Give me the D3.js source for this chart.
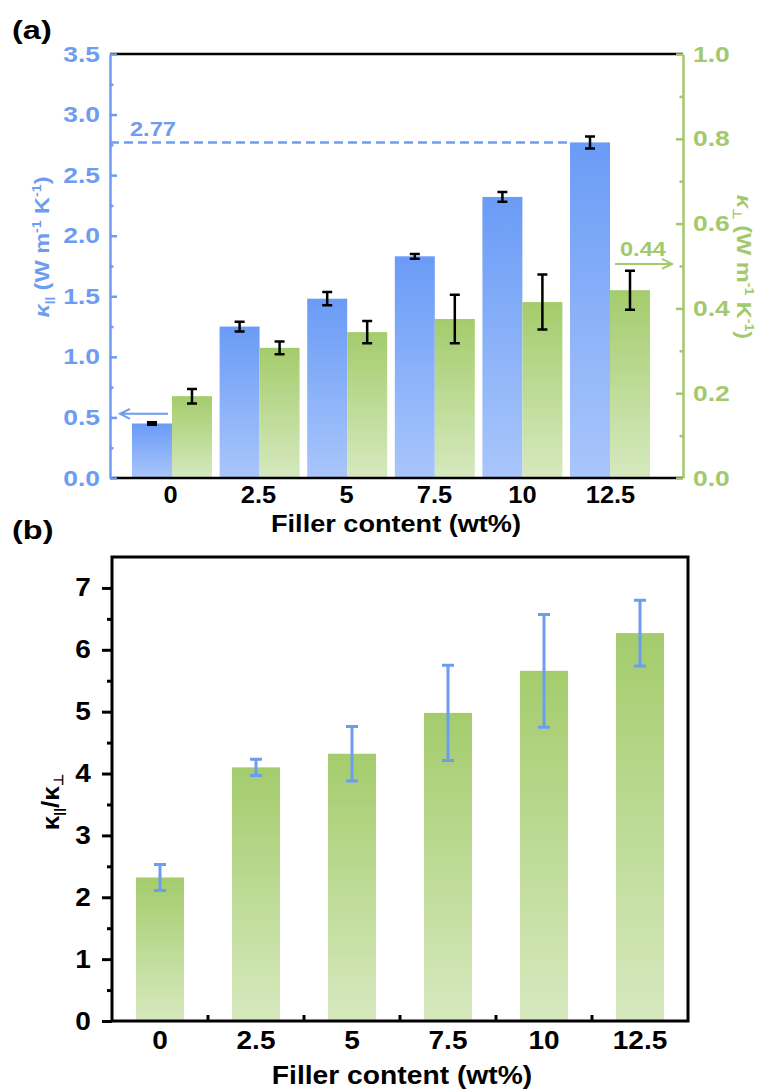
<!DOCTYPE html>
<html>
<head>
<meta charset="utf-8">
<script src="https://cdn.jsdelivr.net/npm/d3@7"></script>
<style>
  body { margin: 0; background: #fff; }
  svg { font-family: "Liberation Sans", Arial, sans-serif; font-weight: bold; }
</style>
</head>
<body>
<script>
// data
const fillers = ['0', '2.5', '5', '7.5', '10', '12.5'];
const kPara = [0.45, 1.25, 1.48, 1.83, 2.32, 2.77];
const kParaErr = [0.01, 0.04, 0.055, 0.02, 0.04, 0.05];
const kPerp = [0.193, 0.307, 0.344, 0.375, 0.415, 0.443];
const kPerpErr = [0.017, 0.015, 0.026, 0.057, 0.065, 0.046];
const ratio = [2.32, 4.10, 4.32, 4.98, 5.66, 6.27];
const ratioErr = [0.21, 0.13, 0.44, 0.77, 0.91, 0.53];
const yLeftTicks = [0, 0.5, 1.0, 1.5, 2.0, 2.5, 3.0, 3.5];
const yRightTicks = [0, 0.2, 0.4, 0.6, 0.8, 1.0];
const yRatioTicks = [0, 1, 2, 3, 4, 5, 6, 7];

const blue = '#6d9cf0', green = '#a3c96d';

const svg = d3.select('body').append('svg')
    .attr('width', 772).attr('height', 1090);

const defs = svg.append('defs');
const grad = (id, c0, c1) => {
    const g = defs.append('linearGradient').attr('id', id)
        .attr('x1', 0).attr('y1', 0).attr('x2', 0).attr('y2', 1);
    g.append('stop').attr('offset', 0).attr('stop-color', c0);
    g.append('stop').attr('offset', 1).attr('stop-color', c1);
};
grad('gBlue', '#6a9bf6', '#a9c6fb');
grad('gGreen', '#a4cc6c', '#d6e9bf');

const label = (g, x, y, txt, size, sx, anchor, fill, rot = 0) =>
    g.append('text')
        .attr('transform', `translate(${x},${y}) rotate(${rot}) scale(${sx},1)`)
        .attr('text-anchor', anchor)
        .attr('font-size', size)
        .attr('fill', fill)
        .text(txt);

const kappaTitle = (g, x, y, sub, fill, rot, size, sx, italic) => {
    const t = g.append('text')
        .attr('transform', `translate(${x},${y}) rotate(${rot}) scale(${sx},1)`)
        .attr('text-anchor', 'middle')
        .attr('font-size', size)
        .attr('fill', fill);
    t.append('tspan').attr('font-style', italic ? 'italic' : null).text('κ');
    t.append('tspan').attr('font-size', size * 0.55).attr('dy', 4).text(sub);
    t.append('tspan').attr('dy', -4).text(' (W m');
    t.append('tspan').attr('font-size', size * 0.6).attr('dy', -8).text('-1');
    t.append('tspan').attr('dy', 8).text(' K');
    t.append('tspan').attr('font-size', size * 0.6).attr('dy', -8).text('-1');
    t.append('tspan').attr('dy', 8).text(')');
};

const errBars = (g, data, xf, yf, half, color, width) => {
    const e = g.append('g').attr('stroke', color).attr('stroke-width', width).attr('fill', 'none');
    e.selectAll('path').data(data).join('path')
        .attr('d', d => {
            const x = xf(d), y0 = yf(d.v - d.e), y1 = yf(d.v + d.e);
            return `M${x - half},${y1}H${x + half}M${x},${y1}V${y0}M${x - half},${y0}H${x + half}`;
        });
};

// ---------------- panel (a) ----------------
const a = svg.append('g');
const xA = d3.scaleBand().domain(fillers).range([132, 650]).paddingInner(0.087).paddingOuter(0);
const xSub = d3.scaleBand().domain(['para', 'perp']).range([0, xA.bandwidth()]);
const yL = d3.scaleLinear().domain([0, 3.5]).range([478, 54]);
const yR = d3.scaleLinear().domain([0, 1]).range([478, 54]);

const paraData = fillers.map((f, i) => ({f, v: kPara[i], e: kParaErr[i]}));
const perpData = fillers.map((f, i) => ({f, v: kPerp[i], e: kPerpErr[i]}));

a.selectAll('rect.para').data(paraData).join('rect').attr('class', 'para')
    .attr('x', d => xA(d.f) + xSub('para'))
    .attr('width', xSub.bandwidth())
    .attr('y', d => yL(d.v))
    .attr('height', d => yL(0) - yL(d.v))
    .attr('fill', 'url(#gBlue)');
a.selectAll('rect.perp').data(perpData).join('rect').attr('class', 'perp')
    .attr('x', d => xA(d.f) + xSub('perp'))
    .attr('width', xSub.bandwidth())
    .attr('y', d => yR(d.v))
    .attr('height', d => yR(0) - yR(d.v))
    .attr('fill', 'url(#gGreen)');

errBars(a, paraData, d => xA(d.f) + xSub('para') + xSub.bandwidth() / 2, yL, 5, '#000', 2.5);
errBars(a, perpData, d => xA(d.f) + xSub('perp') + xSub.bandwidth() / 2, yR, 5, '#000', 2.5);

// frame lines top / bottom
a.append('line').attr('x1', 110).attr('x2', 683).attr('y1', yL(3.5)).attr('y2', yL(3.5))
    .attr('stroke', '#000').attr('stroke-width', 2.7);
a.append('line').attr('x1', 110).attr('x2', 683).attr('y1', yL(0)).attr('y2', yL(0))
    .attr('stroke', '#000').attr('stroke-width', 2.7);

// max line
const last = paraData[paraData.length - 1];
a.append('line')
    .attr('x1', 110).attr('x2', xA(last.f) + xSub('para'))
    .attr('y1', yL(last.v)).attr('y2', yL(last.v))
    .attr('stroke', blue).attr('stroke-width', 2.5).attr('stroke-dasharray', '9,5');
label(a, 130, yL(last.v) - 6, '2.77', 20, 1.18, 'start', blue);

// arrows
const ay = yL(0.53);
const ax0 = xA('0') + xSub('para') + xSub.bandwidth() - 4, ax1 = 120;
a.append('path')
    .attr('d', `M${ax0},${ay}H${ax1}M${ax1 + 10},${ay - 5}L${ax1},${ay}L${ax1 + 10},${ay + 5}`)
    .attr('stroke', blue).attr('stroke-width', 2).attr('fill', 'none');
const gy = yR(0.505);
const gx0 = xA('12.5') + xSub('perp') + 5, gx1 = 672;
a.append('path')
    .attr('d', `M${gx0},${gy}H${gx1}M${gx1 - 10},${gy - 5}L${gx1},${gy}L${gx1 - 10},${gy + 5}`)
    .attr('stroke', green).attr('stroke-width', 2).attr('fill', 'none');
label(a, 620, gy - 8, '0.44', 20, 1.18, 'start', green);

// left axis
const sA = 1.2;
const leftAx = a.append('g').attr('transform', 'translate(110,0)')
    .call(d3.axisLeft(yL).tickValues(yLeftTicks).tickFormat(d3.format('.1f'))
        .tickSizeInner(-7).tickSizeOuter(0).tickPadding(10 / sA));
leftAx.selectAll('path,line').attr('stroke', blue).attr('stroke-width', 2.5);
leftAx.selectAll('text').attr('fill', blue).attr('font-size', 22).attr('font-family', null)
    .attr('font-weight', null).attr('transform', `scale(${sA},1)`);
a.append('g').attr('transform', 'translate(110,0)')
    .call(d3.axisLeft(yL).tickValues(d3.range(0.25, 3.5, 0.5)).tickFormat('').tickSize(-3.5).tickSizeOuter(0))
    .call(g => g.select('.domain').remove())
    .selectAll('line').attr('stroke', blue).attr('stroke-width', 2.5);

// right axis
const rightAx = a.append('g').attr('transform', 'translate(683,0)')
    .call(d3.axisRight(yR).tickValues(yRightTicks).tickFormat(d3.format('.1f'))
        .tickSizeInner(-7).tickSizeOuter(0).tickPadding(10 / sA));
rightAx.selectAll('path,line').attr('stroke', green).attr('stroke-width', 2.5);
rightAx.selectAll('text').attr('fill', green).attr('font-size', 22).attr('font-family', null)
    .attr('font-weight', null).attr('transform', `scale(${sA},1)`);
a.append('g').attr('transform', 'translate(683,0)')
    .call(d3.axisRight(yR).tickValues(d3.range(0.1, 1, 0.2)).tickFormat('').tickSize(-3.5).tickSizeOuter(0))
    .call(g => g.select('.domain').remove())
    .selectAll('line').attr('stroke', green).attr('stroke-width', 2.5);

// bottom labels
const xCenters = d3.scalePoint().domain(fillers)
    .range([xA('0') + xA.bandwidth() / 2 - 2, xA('12.5') + xA.bandwidth() / 2]);
const botA = a.append('g').attr('transform', `translate(0,${yL(0)})`)
    .call(d3.axisBottom(xCenters).tickSize(0).tickPadding(8));
botA.select('.domain').remove();
botA.selectAll('text').attr('fill', '#000').attr('font-size', 24).attr('font-family', null)
    .attr('font-weight', null).attr('transform', 'scale(1.06,1)');

label(a, 396, 532, 'Filler content (wt%)', 24, 1.13, 'middle', '#000');
label(a, 12, 39, '(a)', 26, 1.25, 'start', '#000');
kappaTitle(a, 49, 247, '||', blue, -90, 21, 1.12, true);
kappaTitle(a, 737, 267, '⊥', green, 90, 21, 1.12, true);

// ---------------- panel (b) ----------------
const b = svg.append('g');
const xB = d3.scaleBand().domain(fillers).range([112, 688]).padding(0);
const yB = d3.scaleLinear().domain([0, 7.5]).range([1021, 557]);
const ratioData = fillers.map((f, i) => ({f, v: ratio[i], e: ratioErr[i]}));
const barW = xB.bandwidth() * 0.5;

b.selectAll('rect.ratio').data(ratioData).join('rect').attr('class', 'ratio')
    .attr('x', d => xB(d.f) + (xB.bandwidth() - barW) / 2)
    .attr('width', barW)
    .attr('y', d => yB(d.v))
    .attr('height', d => yB(0) - yB(d.v))
    .attr('fill', 'url(#gGreen)');
errBars(b, ratioData, d => xB(d.f) + xB.bandwidth() / 2, yB, 6, blue, 3);

b.append('rect').attr('x', 112).attr('y', yB(7.5)).attr('width', 688 - 112).attr('height', yB(0) - yB(7.5))
    .attr('fill', 'none').attr('stroke', '#000').attr('stroke-width', 3);

const sB = 1.12;
const leftB = b.append('g').attr('transform', 'translate(112,0)')
    .call(d3.axisLeft(yB).tickValues(yRatioTicks).tickFormat(d3.format('d'))
        .tickSizeInner(10).tickSizeOuter(0).tickPadding(10 / sB));
leftB.select('.domain').remove();
leftB.selectAll('line').attr('stroke', '#000').attr('stroke-width', 3);
leftB.selectAll('text').attr('fill', '#000').attr('font-size', 25).attr('font-family', null)
    .attr('font-weight', null).attr('transform', `scale(${sB},1)`);
b.append('g').attr('transform', 'translate(112,0)')
    .call(d3.axisLeft(yB).tickValues(d3.range(0.5, 7.5, 1)).tickFormat('').tickSize(5).tickSizeOuter(0))
    .call(g => g.select('.domain').remove())
    .selectAll('line').attr('stroke', '#000').attr('stroke-width', 3);

// inner ticks at category boundaries
b.append('g').selectAll('line').data(fillers.slice(1)).join('line')
    .attr('x1', d => xB(d)).attr('x2', d => xB(d))
    .attr('y1', yB(0)).attr('y2', yB(0) - 6)
    .attr('stroke', '#000').attr('stroke-width', 3);

const botB = b.append('g').attr('transform', `translate(0,${yB(0)})`)
    .call(d3.axisBottom(xB).tickSize(0).tickPadding(10));
botB.select('.domain').remove();
botB.selectAll('text').attr('fill', '#000').attr('font-size', 25).attr('font-family', null)
    .attr('font-weight', null).attr('transform', `scale(${sB},1)`);

label(b, 402, 1084, 'Filler content (wt%)', 25, 1.13, 'middle', '#000');
label(b, 12, 539, '(b)', 26, 1.25, 'start', '#000');

const rt = b.append('text')
    .attr('transform', `translate(59,802) rotate(-90) scale(1.08,1)`)
    .attr('text-anchor', 'middle').attr('font-size', 24).attr('fill', '#000');
rt.append('tspan').text('κ');
rt.append('tspan').attr('font-size', 13).attr('dy', 4).text('||');
rt.append('tspan').attr('dy', -4).text('/κ');
rt.append('tspan').attr('font-size', 13).attr('dy', 4).text('⊥');
</script>
</body>
</html>
